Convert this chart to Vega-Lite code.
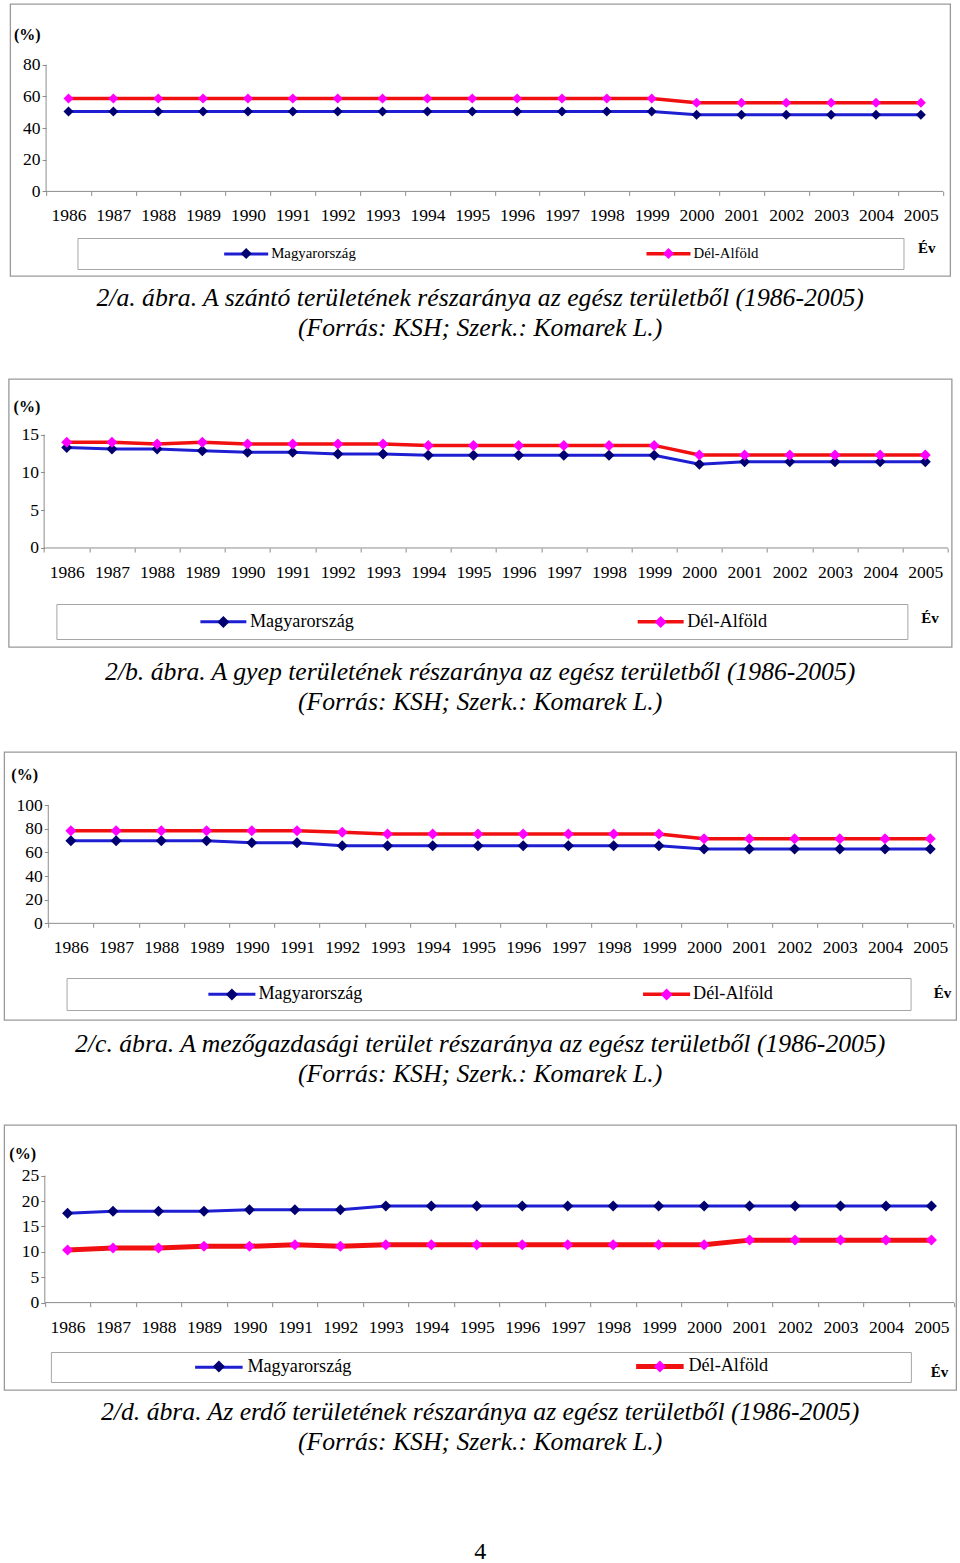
{
  "$schema": "https://vega.github.io/schema/vega-lite/v6.json",
  "background": "white",
  "padding": {"left": 3, "top": 3, "right": 0, "bottom": 0},
  "spacing": 36,
  "center": true,
  "resolve": {"scale": {"color": "independent", "fill": "independent", "strokeWidth": "independent"}, "legend": {"color": "independent", "fill": "independent", "strokeWidth": "independent"}},
  "datasets": {
    "a": [
      {"year":1986,"series":"Magyarország","value":50.5},{"year":1987,"series":"Magyarország","value":50.5},{"year":1988,"series":"Magyarország","value":50.5},{"year":1989,"series":"Magyarország","value":50.5},{"year":1990,"series":"Magyarország","value":50.5},{"year":1991,"series":"Magyarország","value":50.5},{"year":1992,"series":"Magyarország","value":50.5},{"year":1993,"series":"Magyarország","value":50.5},{"year":1994,"series":"Magyarország","value":50.5},{"year":1995,"series":"Magyarország","value":50.5},{"year":1996,"series":"Magyarország","value":50.5},{"year":1997,"series":"Magyarország","value":50.5},{"year":1998,"series":"Magyarország","value":50.5},{"year":1999,"series":"Magyarország","value":50.5},{"year":2000,"series":"Magyarország","value":48.4},{"year":2001,"series":"Magyarország","value":48.4},{"year":2002,"series":"Magyarország","value":48.4},{"year":2003,"series":"Magyarország","value":48.4},{"year":2004,"series":"Magyarország","value":48.4},{"year":2005,"series":"Magyarország","value":48.4},
      {"year":1986,"series":"Dél-Alföld","value":58.7},{"year":1987,"series":"Dél-Alföld","value":58.7},{"year":1988,"series":"Dél-Alföld","value":58.7},{"year":1989,"series":"Dél-Alföld","value":58.7},{"year":1990,"series":"Dél-Alföld","value":58.7},{"year":1991,"series":"Dél-Alföld","value":58.7},{"year":1992,"series":"Dél-Alföld","value":58.7},{"year":1993,"series":"Dél-Alföld","value":58.7},{"year":1994,"series":"Dél-Alföld","value":58.7},{"year":1995,"series":"Dél-Alföld","value":58.7},{"year":1996,"series":"Dél-Alföld","value":58.7},{"year":1997,"series":"Dél-Alföld","value":58.7},{"year":1998,"series":"Dél-Alföld","value":58.7},{"year":1999,"series":"Dél-Alföld","value":58.7},{"year":2000,"series":"Dél-Alföld","value":56.0},{"year":2001,"series":"Dél-Alföld","value":56.0},{"year":2002,"series":"Dél-Alföld","value":56.0},{"year":2003,"series":"Dél-Alföld","value":56.0},{"year":2004,"series":"Dél-Alföld","value":56.0},{"year":2005,"series":"Dél-Alföld","value":56.0}
    ],
    "b": [
      {"year":1986,"series":"Magyarország","value":13.3},{"year":1987,"series":"Magyarország","value":13.1},{"year":1988,"series":"Magyarország","value":13.1},{"year":1989,"series":"Magyarország","value":12.88},{"year":1990,"series":"Magyarország","value":12.66},{"year":1991,"series":"Magyarország","value":12.66},{"year":1992,"series":"Magyarország","value":12.44},{"year":1993,"series":"Magyarország","value":12.44},{"year":1994,"series":"Magyarország","value":12.26},{"year":1995,"series":"Magyarország","value":12.26},{"year":1996,"series":"Magyarország","value":12.26},{"year":1997,"series":"Magyarország","value":12.26},{"year":1998,"series":"Magyarország","value":12.26},{"year":1999,"series":"Magyarország","value":12.26},{"year":2000,"series":"Magyarország","value":11.1},{"year":2001,"series":"Magyarország","value":11.4},{"year":2002,"series":"Magyarország","value":11.4},{"year":2003,"series":"Magyarország","value":11.4},{"year":2004,"series":"Magyarország","value":11.4},{"year":2005,"series":"Magyarország","value":11.4},
      {"year":1986,"series":"Dél-Alföld","value":14.0},{"year":1987,"series":"Dél-Alföld","value":14.0},{"year":1988,"series":"Dél-Alföld","value":13.76},{"year":1989,"series":"Dél-Alföld","value":14.0},{"year":1990,"series":"Dél-Alföld","value":13.76},{"year":1991,"series":"Dél-Alföld","value":13.76},{"year":1992,"series":"Dél-Alföld","value":13.76},{"year":1993,"series":"Dél-Alföld","value":13.76},{"year":1994,"series":"Dél-Alföld","value":13.58},{"year":1995,"series":"Dél-Alföld","value":13.58},{"year":1996,"series":"Dél-Alföld","value":13.58},{"year":1997,"series":"Dél-Alföld","value":13.58},{"year":1998,"series":"Dél-Alföld","value":13.58},{"year":1999,"series":"Dél-Alföld","value":13.58},{"year":2000,"series":"Dél-Alföld","value":12.3},{"year":2001,"series":"Dél-Alföld","value":12.3},{"year":2002,"series":"Dél-Alföld","value":12.3},{"year":2003,"series":"Dél-Alföld","value":12.3},{"year":2004,"series":"Dél-Alföld","value":12.3},{"year":2005,"series":"Dél-Alföld","value":12.3}
    ],
    "c": [
      {"year":1986,"series":"Magyarország","value":69.8},{"year":1987,"series":"Magyarország","value":69.8},{"year":1988,"series":"Magyarország","value":69.8},{"year":1989,"series":"Magyarország","value":69.8},{"year":1990,"series":"Magyarország","value":68.1},{"year":1991,"series":"Magyarország","value":68.1},{"year":1992,"series":"Magyarország","value":65.6},{"year":1993,"series":"Magyarország","value":65.6},{"year":1994,"series":"Magyarország","value":65.6},{"year":1995,"series":"Magyarország","value":65.6},{"year":1996,"series":"Magyarország","value":65.6},{"year":1997,"series":"Magyarország","value":65.6},{"year":1998,"series":"Magyarország","value":65.6},{"year":1999,"series":"Magyarország","value":65.6},{"year":2000,"series":"Magyarország","value":62.8},{"year":2001,"series":"Magyarország","value":62.8},{"year":2002,"series":"Magyarország","value":62.8},{"year":2003,"series":"Magyarország","value":62.8},{"year":2004,"series":"Magyarország","value":62.8},{"year":2005,"series":"Magyarország","value":62.8},
      {"year":1986,"series":"Dél-Alföld","value":78.3},{"year":1987,"series":"Dél-Alföld","value":78.3},{"year":1988,"series":"Dél-Alföld","value":78.3},{"year":1989,"series":"Dél-Alföld","value":78.3},{"year":1990,"series":"Dél-Alföld","value":78.3},{"year":1991,"series":"Dél-Alföld","value":78.3},{"year":1992,"series":"Dél-Alföld","value":76.9},{"year":1993,"series":"Dél-Alföld","value":75.5},{"year":1994,"series":"Dél-Alföld","value":75.5},{"year":1995,"series":"Dél-Alföld","value":75.5},{"year":1996,"series":"Dél-Alföld","value":75.5},{"year":1997,"series":"Dél-Alföld","value":75.5},{"year":1998,"series":"Dél-Alföld","value":75.5},{"year":1999,"series":"Dél-Alföld","value":75.5},{"year":2000,"series":"Dél-Alföld","value":71.5},{"year":2001,"series":"Dél-Alföld","value":71.5},{"year":2002,"series":"Dél-Alföld","value":71.5},{"year":2003,"series":"Dél-Alföld","value":71.5},{"year":2004,"series":"Dél-Alföld","value":71.5},{"year":2005,"series":"Dél-Alföld","value":71.5}
    ],
    "d": [
      {"year":1986,"series":"Magyarország","value":17.6},{"year":1987,"series":"Magyarország","value":18.0},{"year":1988,"series":"Magyarország","value":18.0},{"year":1989,"series":"Magyarország","value":18.0},{"year":1990,"series":"Magyarország","value":18.3},{"year":1991,"series":"Magyarország","value":18.3},{"year":1992,"series":"Magyarország","value":18.3},{"year":1993,"series":"Magyarország","value":19.0},{"year":1994,"series":"Magyarország","value":19.0},{"year":1995,"series":"Magyarország","value":19.0},{"year":1996,"series":"Magyarország","value":19.0},{"year":1997,"series":"Magyarország","value":19.0},{"year":1998,"series":"Magyarország","value":19.0},{"year":1999,"series":"Magyarország","value":19.0},{"year":2000,"series":"Magyarország","value":19.0},{"year":2001,"series":"Magyarország","value":19.0},{"year":2002,"series":"Magyarország","value":19.0},{"year":2003,"series":"Magyarország","value":19.0},{"year":2004,"series":"Magyarország","value":19.0},{"year":2005,"series":"Magyarország","value":19.0},
      {"year":1986,"series":"Dél-Alföld","value":10.36},{"year":1987,"series":"Dél-Alföld","value":10.75},{"year":1988,"series":"Dél-Alföld","value":10.75},{"year":1989,"series":"Dél-Alföld","value":11.08},{"year":1990,"series":"Dél-Alföld","value":11.08},{"year":1991,"series":"Dél-Alföld","value":11.4},{"year":1992,"series":"Dél-Alföld","value":11.08},{"year":1993,"series":"Dél-Alföld","value":11.4},{"year":1994,"series":"Dél-Alföld","value":11.4},{"year":1995,"series":"Dél-Alföld","value":11.4},{"year":1996,"series":"Dél-Alföld","value":11.4},{"year":1997,"series":"Dél-Alföld","value":11.4},{"year":1998,"series":"Dél-Alföld","value":11.4},{"year":1999,"series":"Dél-Alföld","value":11.4},{"year":2000,"series":"Dél-Alföld","value":11.4},{"year":2001,"series":"Dél-Alföld","value":12.3},{"year":2002,"series":"Dél-Alföld","value":12.3},{"year":2003,"series":"Dél-Alföld","value":12.3},{"year":2004,"series":"Dél-Alföld","value":12.3},{"year":2005,"series":"Dél-Alföld","value":12.3}
    ]
  },
  "vconcat": [
    {
      "width": 940, "height": 272,
      "data": {"name": "a"},
      "title": {"text": ["2/a. ábra. A szántó területének részaránya az egész területből (1986-2005)", "(Forrás: KSH; Szerk.: Komarek L.)"], "orient": "bottom", "offset": 10},
      "layer": [
        {"data": {"values": [{}]}, "mark": {"type": "rule", "color": "#8c8c8c", "strokeWidth": 1},
         "encoding": {"x": {"datum": 1986, "type": "ordinal", "bandPosition": 0}, "y": {"datum": 0, "type": "quantitative"}, "y2": {"datum": 80}}},
        {"data": {"values": [{}]}, "mark": {"type": "rule", "color": "#8c8c8c", "strokeWidth": 1},
         "encoding": {"x": {"datum": 1986, "type": "ordinal", "bandPosition": 0}, "x2": {"datum": 2005, "bandPosition": 1}, "y": {"datum": 0, "type": "quantitative"}}},
        {"mark": {"type": "line"},
         "encoding": {
           "x": {"field": "year", "type": "ordinal",
                 "scale": {"type": "band", "domain": [1986,1987,1988,1989,1990,1991,1992,1993,1994,1995,1996,1997,1998,1999,2000,2001,2002,2003,2004,2005], "paddingInner": 0, "paddingOuter": 0.477, "align": 0.839, "round": false},
                 "axis": {"labelAngle": 0, "labelAlign": "center", "tickBand": "extent", "offset": -84.6, "labelPadding": 20.5, "title": "Év", "titleX": 916, "titleY": 56.3, "titleAlign": "center", "titleBaseline": "middle", "titleFontSize": 15}},
           "y": {"field": "value", "type": "quantitative",
                 "scale": {"domain": [-53.4, 118.3], "nice": false, "zero": false},
                 "axis": {"values": [0,20,40,60,80], "offset": -35.9, "labelPadding": 2, "title": "(%)", "titleAngle": 0, "titleX": -32.6, "titleY": 30.7, "titleAlign": "left", "titleBaseline": "middle"}},
           "color": {"field": "series", "type": "nominal", "scale": {"domain": ["Magyarország", "Dél-Alföld"], "range": ["#1E1ED2", "#F01010"]},
                     "legend": {"orient": "none", "legendX": 67.3, "legendY": 234, "direction": "horizontal", "columns": 2, "columnPadding": 35.3, "title": null, "symbolType": "M-4.4,0L4.4,0M43.9,0", "symbolSize": 100, "symbolStrokeWidth": 3, "symbolOffset": 153.2, "labelOffset": 17.6, "labelFontSize": 14.8, "padding": 8.1, "strokeColor": "#a6a6a6"}},
           "strokeWidth": {"field": "series", "type": "ordinal", "scale": {"domain": ["Magyarország", "Dél-Alföld"], "range": [3, 3.5]}, "legend": null}
         }},
        {"mark": {"type": "point", "shape": "diamond", "filled": true, "size": 100, "opacity": 1},
         "encoding": {
           "x": {"field": "year", "type": "ordinal"},
           "y": {"field": "value", "type": "quantitative"},
           "fill": {"field": "series", "type": "nominal", "sort": ["Magyarország", "Dél-Alföld"], "scale": {"range": ["#000070", "#FF00FF"]},
                    "legend": {"orient": "none", "legendX": 67.3, "legendY": 234, "direction": "horizontal", "columns": 2, "columnPadding": 35.3, "title": null, "symbolType": "M-1.1,0L0,-1.1L1.1,0L0,1.1ZM43.9,0", "symbolSize": 100, "symbolStrokeWidth": 3, "symbolStrokeColor": "transparent", "symbolOffset": 153.2, "labelOffset": 17.6, "labelFontSize": 14.8, "labelOpacity": 0, "padding": 8.1}}
         }}
      ]
    },
    {
      "width": 943, "height": 268,
      "data": {"name": "b"},
      "title": {"text": ["2/b. ábra. A gyep területének részaránya az egész területből (1986-2005)", "(Forrás: KSH; Szerk.: Komarek L.)"], "orient": "bottom", "offset": 12.5},
      "layer": [
        {"data": {"values": [{}]}, "mark": {"type": "rule", "color": "#8c8c8c", "strokeWidth": 1},
         "encoding": {"x": {"datum": 1986, "type": "ordinal", "bandPosition": 0}, "y": {"datum": 0, "type": "quantitative"}, "y2": {"datum": 15}}},
        {"data": {"values": [{}]}, "mark": {"type": "rule", "color": "#8c8c8c", "strokeWidth": 1},
         "encoding": {"x": {"datum": 1986, "type": "ordinal", "bandPosition": 0}, "x2": {"datum": 2005, "bandPosition": 1}, "y": {"datum": 0, "type": "quantitative"}}},
        {"mark": {"type": "line"},
         "encoding": {
           "x": {"field": "year", "type": "ordinal",
                 "scale": {"type": "band", "domain": [1986,1987,1988,1989,1990,1991,1992,1993,1994,1995,1996,1997,1998,1999,2000,2001,2002,2003,2004,2005], "paddingInner": 0, "paddingOuter": 0.434, "align": 0.904, "round": false},
                 "axis": {"labelAngle": 0, "labelAlign": "center", "tickBand": "extent", "offset": -99, "labelPadding": 20.5, "title": "Év", "titleX": 920.7, "titleY": 69.2, "titleAlign": "center", "titleBaseline": "middle", "titleFontSize": 15}},
           "y": {"field": "value", "type": "quantitative",
                 "scale": {"domain": [-13.11, 22.37], "nice": false, "zero": false},
                 "axis": {"values": [0,5,10,15], "offset": -35.8, "labelPadding": 2, "title": "(%)", "titleAngle": 0, "titleX": -31.4, "titleY": 27.7, "titleAlign": "left", "titleBaseline": "middle"}},
           "color": {"field": "series", "type": "nominal", "scale": {"domain": ["Magyarország", "Dél-Alföld"], "range": ["#1E1ED2", "#F01010"]},
                     "legend": {"orient": "none", "legendX": 47.7, "legendY": 225, "direction": "horizontal", "columns": 2, "columnPadding": 41.3, "title": null, "symbolType": "M-3.83,0L3.83,0M38.45,0", "symbolSize": 144, "symbolStrokeWidth": 3, "symbolOffset": 149.5, "labelOffset": 17.4, "labelFontSize": 18.2, "padding": 8.4, "strokeColor": "#a6a6a6"}},
           "strokeWidth": {"field": "series", "type": "ordinal", "scale": {"domain": ["Magyarország", "Dél-Alföld"], "range": [3, 3.5]}, "legend": null}
         }},
        {"mark": {"type": "point", "shape": "diamond", "filled": true, "size": 121, "opacity": 1},
         "encoding": {
           "x": {"field": "year", "type": "ordinal"},
           "y": {"field": "value", "type": "quantitative"},
           "fill": {"field": "series", "type": "nominal", "sort": ["Magyarország", "Dél-Alföld"], "scale": {"range": ["#000070", "#FF00FF"]},
                    "legend": {"orient": "none", "legendX": 47.7, "legendY": 225, "direction": "horizontal", "columns": 2, "columnPadding": 41.3, "title": null, "symbolType": "M-1,0L0,-1L1,0L0,1ZM38.45,0", "symbolSize": 144, "symbolStrokeWidth": 3, "symbolStrokeColor": "transparent", "symbolOffset": 149.5, "labelOffset": 17.4, "labelFontSize": 18.2, "labelOpacity": 0, "padding": 8.4}}
         }}
      ]
    },
    {
      "width": 952, "height": 268,
      "data": {"name": "c"},
      "title": {"text": ["2/c. ábra. A mezőgazdasági terület részaránya az egész területből (1986-2005)", "(Forrás: KSH; Szerk.: Komarek L.)"], "orient": "bottom", "offset": 12},
      "layer": [
        {"data": {"values": [{}]}, "mark": {"type": "rule", "color": "#8c8c8c", "strokeWidth": 1},
         "encoding": {"x": {"datum": 1986, "type": "ordinal", "bandPosition": 0}, "y": {"datum": 0, "type": "quantitative"}, "y2": {"datum": 100}}},
        {"data": {"values": [{}]}, "mark": {"type": "rule", "color": "#8c8c8c", "strokeWidth": 1},
         "encoding": {"x": {"datum": 1986, "type": "ordinal", "bandPosition": 0}, "x2": {"datum": 2005, "bandPosition": 1}, "y": {"datum": 0, "type": "quantitative"}}},
        {"mark": {"type": "line"},
         "encoding": {
           "x": {"field": "year", "type": "ordinal",
                 "scale": {"type": "band", "domain": [1986,1987,1988,1989,1990,1991,1992,1993,1994,1995,1996,1997,1998,1999,2000,2001,2002,2003,2004,2005], "paddingInner": 0, "paddingOuter": 0.524, "align": 0.93, "round": false},
                 "axis": {"labelAngle": 0, "labelAlign": "center", "tickBand": "extent", "offset": -96.7, "labelPadding": 20.5, "title": "Év", "titleX": 937.7, "titleY": 69.2, "titleAlign": "center", "titleBaseline": "middle", "titleFontSize": 15}},
           "y": {"field": "value", "type": "quantitative",
                 "scale": {"domain": [-81.7, 144.8], "nice": false, "zero": false},
                 "axis": {"values": [0,20,40,60,80,100], "offset": -44.1, "labelPadding": 2, "title": "(%)", "titleAngle": 0, "titleX": -37.4, "titleY": 22, "titleAlign": "left", "titleBaseline": "middle"}},
           "color": {"field": "series", "type": "nominal", "scale": {"domain": ["Magyarország", "Dél-Alföld"], "range": ["#1E1ED2", "#F01010"]},
                     "legend": {"orient": "none", "legendX": 62.4, "legendY": 226, "direction": "horizontal", "columns": 2, "columnPadding": 40.7, "title": null, "symbolType": "M-3.92,0L3.92,0M38.25,0", "symbolSize": 144, "symbolStrokeWidth": 3, "symbolOffset": 149.3, "labelOffset": 17.4, "labelFontSize": 18.2, "padding": 6.9, "strokeColor": "#a6a6a6"}},
           "strokeWidth": {"field": "series", "type": "ordinal", "scale": {"domain": ["Magyarország", "Dél-Alföld"], "range": [3, 3.5]}, "legend": null}
         }},
        {"mark": {"type": "point", "shape": "diamond", "filled": true, "size": 121, "opacity": 1},
         "encoding": {
           "x": {"field": "year", "type": "ordinal"},
           "y": {"field": "value", "type": "quantitative"},
           "fill": {"field": "series", "type": "nominal", "sort": ["Magyarország", "Dél-Alföld"], "scale": {"range": ["#000070", "#FF00FF"]},
                    "legend": {"orient": "none", "legendX": 62.4, "legendY": 226, "direction": "horizontal", "columns": 2, "columnPadding": 40.7, "title": null, "symbolType": "M-1,0L0,-1L1,0L0,1ZM38.25,0", "symbolSize": 144, "symbolStrokeWidth": 3, "symbolStrokeColor": "transparent", "symbolOffset": 149.3, "labelOffset": 17.4, "labelFontSize": 18.2, "labelOpacity": 0, "padding": 6.9}}
         }}
      ]
    },
    {
      "width": 952, "height": 265,
      "data": {"name": "d"},
      "title": {"text": ["2/d. ábra. Az erdő területének részaránya az egész területből (1986-2005)", "(Forrás: KSH; Szerk.: Komarek L.)"], "orient": "bottom", "offset": 10,
                "subtitle": "4", "subtitleFont": "Liberation Serif", "subtitleFontSize": 24, "subtitleFontStyle": "normal", "subtitleColor": "#000000", "subtitlePadding": 84},
      "layer": [
        {"data": {"values": [{}]}, "mark": {"type": "rule", "color": "#8c8c8c", "strokeWidth": 1},
         "encoding": {"x": {"datum": 1986, "type": "ordinal", "bandPosition": 0}, "y": {"datum": 0, "type": "quantitative"}, "y2": {"datum": 25}}},
        {"data": {"values": [{}]}, "mark": {"type": "rule", "color": "#8c8c8c", "strokeWidth": 1},
         "encoding": {"x": {"datum": 1986, "type": "ordinal", "bandPosition": 0}, "x2": {"datum": 2005, "bandPosition": 1}, "y": {"datum": 0, "type": "quantitative"}}},
        {"mark": {"type": "line"},
         "encoding": {
           "x": {"field": "year", "type": "ordinal",
                 "scale": {"type": "band", "domain": [1986,1987,1988,1989,1990,1991,1992,1993,1994,1995,1996,1997,1998,1999,2000,2001,2002,2003,2004,2005], "paddingInner": 0, "paddingOuter": 0.469, "align": 0.953, "round": false},
                 "axis": {"labelAngle": 0, "labelAlign": "center", "tickBand": "extent", "offset": -87.4, "labelPadding": 20.5, "title": "Év", "titleX": 934.7, "titleY": 68.7, "titleAlign": "center", "titleBaseline": "middle", "titleFontSize": 15}},
           "y": {"field": "value", "type": "quantitative",
                 "scale": {"domain": [-17.2, 34.96], "nice": false, "zero": false},
                 "axis": {"values": [0,5,10,15,20,25], "offset": -40.6, "labelPadding": 2, "title": "(%)", "titleAngle": 0, "titleX": -35.9, "titleY": 28.3, "titleAlign": "left", "titleBaseline": "middle"}},
           "color": {"field": "series", "type": "nominal", "scale": {"domain": ["Magyarország", "Dél-Alföld"], "range": ["#1E1ED2", "#F01010"]},
                     "legend": {"orient": "none", "legendX": 46.7, "legendY": 227, "direction": "horizontal", "columns": 2, "columnPadding": 36, "title": null, "symbolType": "M-3.96,0L3.96,0M39.25,0", "symbolSize": 144, "symbolStrokeWidth": 3, "symbolOffset": 154, "labelOffset": 19.4, "labelFontSize": 18.2, "padding": 4.9, "strokeColor": "#a6a6a6"}},
           "strokeWidth": {"field": "series", "type": "ordinal", "scale": {"domain": ["Magyarország", "Dél-Alföld"], "range": [3, 5]}, "legend": null}
         }},
        {"mark": {"type": "point", "shape": "diamond", "filled": true, "size": 121, "opacity": 1},
         "encoding": {
           "x": {"field": "year", "type": "ordinal"},
           "y": {"field": "value", "type": "quantitative"},
           "fill": {"field": "series", "type": "nominal", "sort": ["Magyarország", "Dél-Alföld"], "scale": {"range": ["#000070", "#FF00FF"]},
                    "legend": {"orient": "none", "legendX": 46.7, "legendY": 227, "direction": "horizontal", "columns": 2, "columnPadding": 36, "title": null, "symbolType": "M-1,0L0,-1L1,0L0,1ZM39.25,0", "symbolSize": 144, "symbolStrokeWidth": 3, "symbolStrokeColor": "transparent", "symbolOffset": 154, "labelOffset": 19.4, "labelFontSize": 18.2, "labelOpacity": 0, "padding": 4.9}}
         }}
      ]
    }
  ],
  "config": {
    "view": {"stroke": "#999999", "strokeWidth": 1.3},
    "axis": {"domain": false, "grid": false, "tickColor": "#8c8c8c", "tickSize": 4, "tickWidth": 1,
             "labelFont": "Liberation Serif", "labelFontSize": 17.5, "labelColor": "#000000",
             "titleFont": "Liberation Serif", "titleFontWeight": "bold", "titleColor": "#000000", "titleFontSize": 16},
    "title": {"font": "Liberation Serif", "fontStyle": "italic", "fontWeight": "normal", "fontSize": 25.7, "lineHeight": 30, "color": "#000000", "anchor": "middle"},
    "legend": {"labelFont": "Liberation Serif", "labelColor": "#000000"}
  }
}
